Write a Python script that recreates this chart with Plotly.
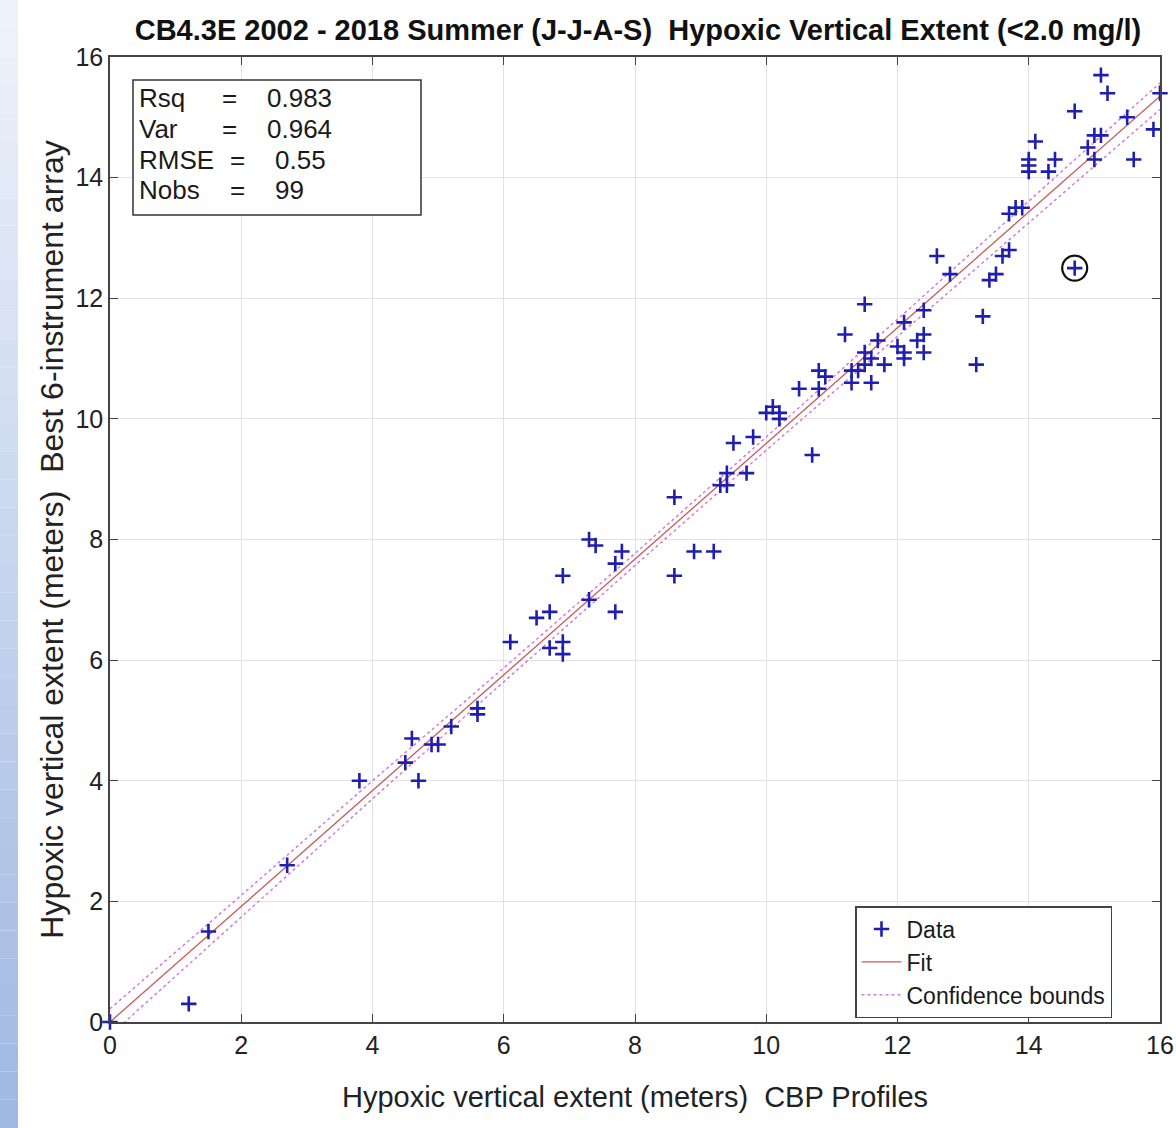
import plotly.graph_objects as go

# ---------------- data ----------------
cbp_x = [0, 1.2, 1.5, 2.7, 3.8, 4.5, 4.6, 4.7, 4.9, 5.0, 5.2, 5.6, 5.6, 6.1, 6.5, 6.7, 6.7,
         6.9, 6.9, 6.9, 7.3, 7.3, 7.4, 7.7, 7.8, 7.7, 8.6, 8.6, 8.9, 9.2, 9.3, 9.4, 9.4,
         9.5, 9.7, 9.8, 10.0, 10.1, 10.2, 10.2, 10.5, 10.7, 10.8, 10.8, 10.9, 11.2, 11.3,
         11.3, 11.4, 11.5, 11.5, 11.5, 11.6, 11.6, 11.7, 11.8, 12.0, 12.1, 12.1, 12.1,
         12.3, 12.4, 12.4, 12.4, 12.6, 12.8, 13.2, 13.3, 13.4, 13.5, 13.6, 13.7, 13.7,
         13.8, 13.9, 14.0, 14.0, 14.0, 14.1, 14.3, 14.4, 14.7, 14.7, 14.9, 15.0, 15.0,
         15.1, 15.1, 15.2, 15.5, 15.6, 15.9, 16.0]
best6_y = [0, 0.3, 1.5, 2.6, 4.0, 4.3, 4.7, 4.0, 4.6, 4.6, 4.9, 5.2, 5.1, 6.3, 6.7, 6.8, 6.2,
           7.4, 6.3, 6.1, 7.0, 8.0, 7.9, 7.6, 7.8, 6.8, 8.7, 7.4, 7.8, 7.8, 8.9, 8.9, 9.1,
           9.6, 9.1, 9.7, 10.1, 10.2, 10.1, 10.0, 10.5, 9.4, 10.5, 10.8, 10.7, 11.4, 10.8,
           10.6, 10.8, 10.9, 11.1, 11.9, 11.0, 10.6, 11.3, 10.9, 11.2, 11.6, 11.0, 11.1,
           11.3, 11.4, 11.8, 11.1, 12.7, 12.4, 10.9, 11.7, 12.3, 12.4, 12.7, 12.8, 13.4,
           13.5, 13.5, 14.3, 14.2, 14.1, 14.6, 14.1, 14.3, 12.5, 15.1, 14.5, 14.3, 14.7,
           14.7, 15.7, 15.4, 15.0, 14.3, 14.8, 15.4]

outlier_x = [14.7]
outlier_y = [12.5]

fit_x = [0, 16]
fit_y = [0, 15.35]

ci_x = [0, 2, 4, 6, 8, 10, 12, 14, 16]
ci_upper = [0.22, 2.10, 4.00, 5.87, 7.77, 9.70, 11.65, 13.61, 15.57]
ci_lower = [-0.22, 1.74, 3.70, 5.64, 7.57, 9.48, 11.37, 13.25, 15.13]

stat_labels = ["Rsq", "Var", "RMSE", "Nobs"]
stat_values = ["0.983", "0.964", "0.55", "99"]

tick_vals = [0, 2, 4, 6, 8, 10, 12, 14, 16]

title = "CB4.3E 2002 - 2018 Summer (J-J-A-S)  Hypoxic Vertical Extent (<2.0 mg/l)"
x_title = "Hypoxic vertical extent (meters)  CBP Profiles"
y_title = "Hypoxic vertical extent (meters)  Best 6-instrument array"

# ---------------- layout geometry ----------------
W, H = 1176, 1128
L, R, T, B = 110, 1160, 57, 1022  # plot area in pixels
FONT = "Liberation Sans, Arial, Helvetica, sans-serif"


def px(x):
    return (x - L) / (R - L)


def py(y):
    return (B - y) / (B - T)


fig = go.Figure()

fig.add_trace(go.Scatter(
    x=ci_x, y=ci_upper, mode="lines", name="Confidence bounds",
    line=dict(color="#d77ad7", width=1.5, dash="dot"), showlegend=True,
    legendrank=3))
fig.add_trace(go.Scatter(
    x=ci_x, y=ci_lower, mode="lines", name="Confidence bounds",
    line=dict(color="#d77ad7", width=1.5, dash="dot"), showlegend=False))
fig.add_trace(go.Scatter(
    x=fit_x, y=fit_y, mode="lines", name="Fit",
    line=dict(color="#c85a5a", width=1.3), legendrank=2))
fig.add_trace(go.Scatter(
    x=cbp_x, y=best6_y, mode="markers", name="Data", cliponaxis=False,
    marker=dict(symbol="cross-thin", size=11, color="#1e1eb0",
                line=dict(color="#1e1eb0", width=2.6)),
    legendrank=1))
fig.add_trace(go.Scatter(
    x=outlier_x, y=outlier_y, mode="markers", showlegend=False,
    marker=dict(symbol="circle-open", size=25, color="#111111",
                line=dict(color="#111111", width=2.2))))

# left decorative gradient strip
n = 40
top_c = (238, 243, 251)
bot_c = (160, 184, 226)
y0p, y1p = py(H), py(0)
for i in range(n):
    t = i / (n - 1)
    c = tuple(int(top_c[k] + (bot_c[k] - top_c[k]) * t) for k in range(3))
    ya = y1p - (y1p - y0p) * i / n
    yb = y1p - (y1p - y0p) * (i + 1) / n
    fig.add_shape(type="rect", xref="paper", yref="paper",
                  x0=px(0), x1=px(18), y0=yb, y1=ya,
                  fillcolor="rgb(%d,%d,%d)" % c, line=dict(width=0), layer="below")

# stats box
fig.add_shape(type="rect", xref="paper", yref="paper",
              x0=px(133), x1=px(421), y0=py(215), y1=py(80),
              line=dict(color="#333333", width=1.5), fillcolor="white")
row_y = [98, 129, 160, 190]
eq_x = [229, 229, 237, 237]
val_x = [265, 265, 273, 273]
for lab, val, ry, ex, vx in zip(stat_labels, stat_values, row_y, eq_x, val_x):
    fig.add_annotation(x=px(137), y=py(ry), xref="paper", yref="paper", text=lab,
                       showarrow=False, xanchor="left", yanchor="middle",
                       font=dict(family=FONT, size=26, color="#1a1a1a"))
    fig.add_annotation(x=px(ex), y=py(ry), xref="paper", yref="paper", text="=",
                       showarrow=False, xanchor="center", yanchor="middle",
                       font=dict(family=FONT, size=26, color="#1a1a1a"))
    fig.add_annotation(x=px(vx), y=py(ry), xref="paper", yref="paper", text=val,
                       showarrow=False, xanchor="left", yanchor="middle",
                       font=dict(family=FONT, size=26, color="#1a1a1a"))

axis_common = dict(
    range=[0, 16], tickvals=tick_vals, showgrid=True, gridcolor="#e2e2e2", gridwidth=1,
    zeroline=False, showline=True, linecolor="#444444", linewidth=1.5, mirror="ticks",
    ticks="inside", ticklen=8, tickcolor="#444444",
    tickfont=dict(family=FONT, size=25, color="#222222"),
)

fig.update_layout(
    width=W, height=H,
    margin=dict(l=L, r=W - R, t=T, b=H - B, autoexpand=False),
    paper_bgcolor="white", plot_bgcolor="white",
    title=dict(text="<b>" + title + "</b>", x=638 / W, y=1 - 30 / H,
               xanchor="center", yanchor="middle",
               font=dict(family=FONT, size=29, color="#111111")),
    xaxis=dict(axis_common, title=dict(text=x_title, standoff=29,
                                       font=dict(family=FONT, size=29, color="#222222"))),
    yaxis=dict(axis_common, title=dict(text=y_title, standoff=2,
                                       font=dict(family=FONT, size=32, color="#222222"))),
    legend=dict(x=px(855), y=py(906), xanchor="left", yanchor="top",
                bgcolor="white", bordercolor="#444444", borderwidth=1.5,
                font=dict(family=FONT, size=23, color="#1a1a1a"),
                tracegroupgap=0, itemwidth=40),
    showlegend=True,
)

fig.write_html("out.html", config={"displayModeBar": False},
               post_script="document.body.style.margin='0';")
